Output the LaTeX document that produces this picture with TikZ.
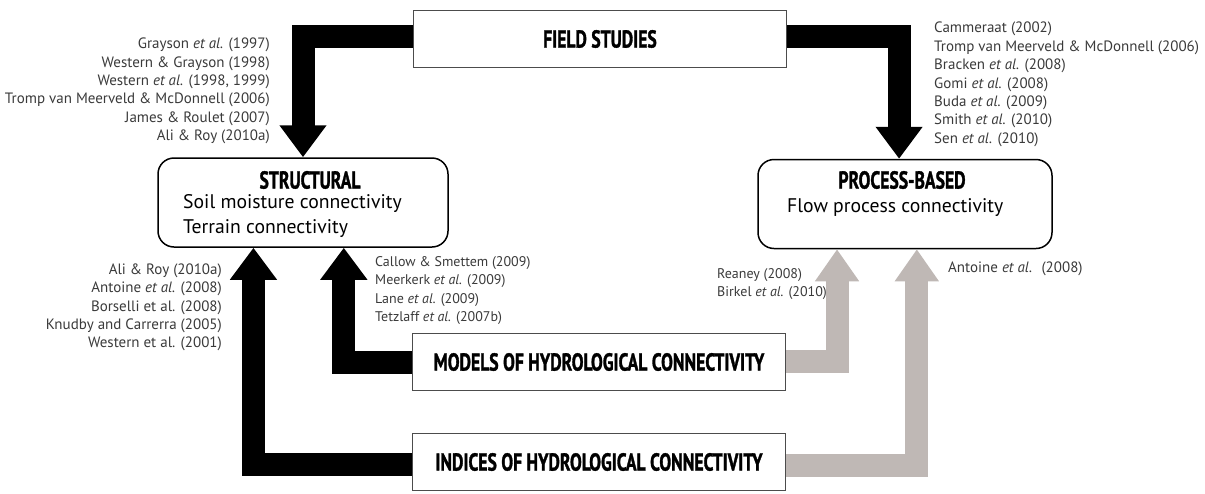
\documentclass[tikz,border=0pt]{standalone}
\usepackage{fontspec}
\setmainfont{PT Sans}
\newfontfamily\hdfont[FakeStretch=0.72, FakeBold=1.3]{PT Sans}
\usetikzlibrary{arrows.meta, calc, positioning}
\definecolor{flowgray}{HTML}{BFB8B5}
\definecolor{citegray}{HTML}{3A3A3A}
\def\etal{\textit{et al.}}

\begin{document}
\begin{tikzpicture}[x=1pt, y=-1pt,
        sqbox/.style={draw=black!70, line width=1.5pt, minimum width=373pt, minimum height=57pt},
        rbox/.style={draw=black, line width=1.5pt, rounded corners=16pt, minimum height=89pt},
        heading/.style={font=\hdfont\bfseries\fontsize{24.5}{24.5}\selectfont, inner sep=0pt},
        boxtext/.style={font=\fontsize{19.7}{19.7}\selectfont, anchor=west, inner sep=0pt},
        cite/.style={font=\fontsize{15}{18.4}\selectfont, text=citegray, inner sep=0pt},
        smallcite/.style={cite, font=\fontsize{14}{18.4}\selectfont},
        blackflow/.style={line width=23pt, line join=miter, -{Triangle[width=45pt, length=32pt]}},
        grayflow/.style={blackflow, draw=flowgray, -{Triangle[width=42pt, length=32pt, fill=flowgray]}}]
        \useasboundingbox (0,0) rectangle (1205,493);
        % boxes
        \node[sqbox, heading, inner sep=4pt] (field) at (600,39) {FIELD STUDIES};
        \node[sqbox, heading, inner sep=4pt] (models) at (599,362) {MODELS OF HYDROLOGICAL CONNECTIVITY};
        \node[sqbox, heading, inner sep=4pt] (indices) at (599,462) {INDICES OF HYDROLOGICAL CONNECTIVITY};
        \node[rbox, minimum width=290pt] (struct) at (303,202.5) {};
        \node[rbox, minimum width=294pt] (proc) at (905,204) {};
        \node[heading] (structT) at (310,180) {STRUCTURAL};
        \node[boxtext] (soil) at (183,204) {Soil moisture connectivity};
        \node[boxtext] (terrain) at (183,229) {Terrain connectivity};
        \node[heading] (procT) at (902,180) {PROCESS-BASED};
        \node[boxtext] (flowproc) at (787,208) {Flow process connectivity};
        % arrows
        \draw[blackflow] ([yshift=3pt]field.west) -| (struct.north);
        \draw[blackflow] ([yshift=3pt]field.east) -| ($(proc.north west)!0.48!(proc.north east)$);
        \draw[blackflow] (models.west) -| ($(struct.south west)!0.64!(struct.south east)$);
        \draw[blackflow] ([yshift=-2pt]indices.west) -| ($(struct.south west)!0.33!(struct.south east)$);
        \draw[grayflow] ([yshift=1pt]models.east) -| ($(proc.south west)!0.27!(proc.south east)$);
        \draw[grayflow] ([yshift=-3pt]indices.east) -| ($(proc.south west)!0.54!(proc.south east)$);
        % references
        \node[cite, align=right, anchor=east] (citeA) at (270,91) {Grayson \etal{} (1997)\\Western \& Grayson (1998)\\Western \etal{} (1998, 1999)\\Tromp van Meerveld \& McDonnell (2006)\\James \& Roulet (2007)\\Ali \& Roy (2010a)};
        \node[cite, align=left, anchor=west] (citeB) at (934,84.5) {Cammeraat (2002)\\Tromp van Meerveld \& McDonnell (2006)\\Bracken \etal{} (2008)\\Gomi \etal{} (2008)\\Buda \etal{} (2009)\\Smith \etal{} (2010)\\Sen \etal{} (2010)};
        \node[cite, align=right, anchor=east] (citeC) at (222,307.5) {Ali \& Roy (2010a)\\Antoine \etal{}  (2008)\\Borselli et al. (2008)\\Knudby and Carrerra (2005)\\Western et al. (2001)};
        \node[smallcite, align=left, anchor=west] (citeD) at (375,290.5) {Callow \& Smettem (2009)\\Meerkerk \etal{} (2009)\\Lane \etal{} (2009)\\Tetzlaff \etal{} (2007b)};
        \node[smallcite, align=left, anchor=west] (citeE) at (717,284) {Reaney (2008)\\Birkel \etal{} (2010)};
        \node[cite, anchor=west] (citeF) at (948,269) {Antoine \etal{}~ (2008)};
\end{tikzpicture}
\end{document}
